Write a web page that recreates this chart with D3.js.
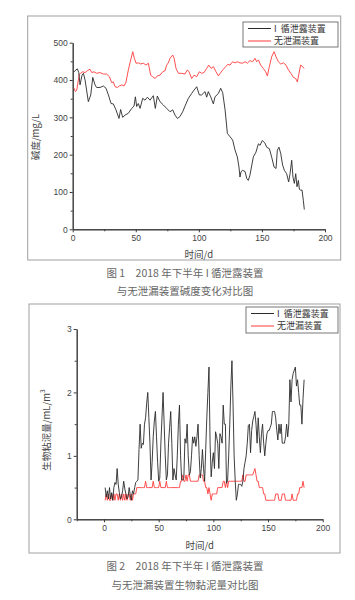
<!DOCTYPE html>
<html><head><meta charset="utf-8">
<script src="https://cdn.jsdelivr.net/npm/d3@7"></script>
<style>
body{margin:0;background:#fff;}
svg{display:block;}
</style></head>
<body>
<svg id="c" width="355" height="600"></svg>
<script>
// ---------- Chart 1: alkalinity (mg/L) ----------
const c1LeakDays = [1.1,2.6,3.7,4.8,5.8,7.4,8.5,9.8,12.4,14.3,15.9,17.7,19,21.7,24.3,26.4,28.3,30.4,32.2,34.3,36.7,38,39.6,41.5,44.1,46.8,48.6,49.7,50.7,52,53.4,55.5,57.3,59.2,61.3,63.9,65.5,67.1,69.2,71.9,74.5,77.1,79.3,81.1,83,85,87.2,89,91.7,94.3,96.2,98.3,100.4,102.2,104.9,106.2,107.5,109.4,111.5,112.8,115.5,117.3,118.9,120.8,122.6,124.7,126.8,128.7,130.5,131.8,132.6,133.4,134.7,136.6,138,139.2,140.5,143.2,145.3,147.2,148.5,150.3,152.4,153.8,155.9,157.7,159.6,161.2,162.2,163.5,164.9,166.4,167.8,169.6,171.2,172.3,173.6,174.6,175.7,176.8,177.8,178.9,179.7,180.7,181.8,182.8,183.6];
const c1LeakVals = [422,427,430,420,387,413,418,400,342,360,407,387,380,380,384,378,360,337,336,320,297,321,300,306,311,324,330,355,329,337,324,351,346,354,346,358,324,357,342,333,324,315,320,306,297,302,315,330,351,364,373,382,360,360,369,354,369,355,336,355,364,378,366,320,257,248,239,212,194,167,140,154,158,155,136,131,145,194,207,229,225,238,231,220,216,194,167,163,212,220,203,172,158,149,127,149,185,140,123,149,114,131,107,105,105,78,53];
const c1NoLeakDays = [1.1,2.1,3.2,4.5,5.3,6.3,7.9,9.8,11.6,13.7,15.1,16.9,19,21.7,24.3,26.9,29.1,30.9,32.2,33.6,35.4,37,38.8,40.7,42.3,44.1,46,47.6,48.9,50.2,52.1,53.9,56,58.1,60,61.8,63.4,65.3,67.1,69.2,71.3,73.2,74.5,75.8,77.1,79.3,80.4,81.9,83.8,86.4,89,90.9,92.2,94.3,96.2,98.3,100.4,102.2,104.1,106.2,107.8,109.7,111.5,113.6,115.5,117.3,119.5,121.3,122.9,124.7,126.8,128.7,130.5,132.6,134.7,136.6,138.4,140.5,142.6,144.5,145.8,147.2,149,151.1,153,154.3,155.9,157.7,159.6,161.2,163,164.9,167,169.1,171,172.9,175,176.8,178.1,179.4,180.7,182.3,183.4];
const c1NoLeakVals = [378,369,373,400,416,418,422,420,425,429,420,422,418,420,416,416,409,393,395,382,380,384,387,384,395,427,454,476,458,445,446,443,445,440,445,413,409,404,411,413,422,425,440,446,458,467,458,431,418,418,416,427,422,404,413,409,422,418,420,431,440,431,436,422,411,420,429,436,442,440,449,446,449,446,445,449,445,452,449,458,449,454,440,431,422,411,436,462,476,462,449,443,446,440,427,418,407,404,395,418,440,436,431];
const c1XTicks = [0,50,100,150,200];
const c1YTicks = [0,100,200,300,400,500];

// ---------- Chart 2: biological slime (mL/m3), days 1..183 ----------
const c2LeakVals = [0.5,0.35,0.45,0.32,0.5,0.32,0.42,0.3,0.5,0.58,0.55,0.8,0.55,0.42,0.32,0.35,0.45,0.6,0.48,0.4,0.32,0.35,0.5,0.38,0.3,0.45,0.4,0.5,0.58,0.6,0.62,1.1,1.5,1.12,1.2,1.18,1.5,1.6,1.83,2.0,1.6,1.2,0.62,0.9,1.3,1.55,1.7,1.3,0.9,0.6,0.65,1.2,1.6,2.0,1.5,1.0,0.62,0.7,1.2,1.45,1.7,1.2,0.62,0.8,0.7,0.62,1.0,1.5,1.8,1.0,0.62,0.62,0.65,1.27,1.2,1.5,1.0,0.7,0.75,1.0,1.3,1.2,1.3,1.15,1.3,1.5,1.0,0.65,0.8,1.1,0.8,0.6,1.1,1.6,2.0,2.4,1.2,0.67,0.9,1.05,0.8,1.38,1.3,1.2,0.8,1.35,1.3,1.2,1.8,1.5,1.5,0.57,0.6,1.0,1.5,2.1,2.5,1.8,1.0,0.6,0.3,0.4,0.55,0.55,0.55,0.52,0.6,0.8,0.9,1.0,1.2,1.48,1.5,1.05,1.4,1.55,1.62,1.7,1.5,1.2,1.6,1.3,1.05,1.35,1.5,1.2,1.0,1.2,1.35,1.4,1.4,1.45,1.5,1.7,1.7,1.7,1.6,1.4,1.25,1.5,1.35,1.5,1.2,1.2,1.2,1.3,1.5,1.3,1.5,2.2,1.85,2.2,2.3,2.35,2.4,2.1,2.2,2.0,1.8,1.8,1.5,1.9,2.2];
const c2NoLeakVals = [0.3,0.4,0.3,0.4,0.3,0.3,0.4,0.3,0.4,0.3,0.4,0.4,0.3,0.4,0.3,0.4,0.3,0.4,0.3,0.4,0.3,0.4,0.4,0.3,0.4,0.3,0.4,0.4,0.4,0.5,0.5,0.5,0.5,0.5,0.5,0.5,0.5,0.6,0.5,0.5,0.5,0.5,0.5,0.5,0.6,0.5,0.5,0.5,0.5,0.5,0.6,0.5,0.5,0.5,0.5,0.5,0.6,0.5,0.5,0.5,0.5,0.5,0.5,0.5,0.5,0.5,0.5,0.5,0.5,0.6,0.6,0.7,0.6,0.6,0.7,0.6,0.7,0.7,0.6,0.6,0.6,0.6,0.6,0.6,0.6,0.6,0.7,0.7,0.7,0.7,0.6,0.6,0.5,0.5,0.4,0.5,0.4,0.3,0.4,0.4,0.4,0.4,0.4,0.5,0.5,0.5,0.5,0.5,0.6,0.6,0.5,0.6,0.5,0.6,0.6,0.6,0.6,0.6,0.6,0.6,0.6,0.6,0.6,0.6,0.6,0.6,0.7,0.6,0.6,0.7,0.7,0.7,0.7,0.7,0.7,0.7,0.75,0.8,0.7,0.6,0.6,0.5,0.5,0.5,0.5,0.4,0.4,0.3,0.3,0.3,0.3,0.3,0.3,0.3,0.3,0.3,0.4,0.4,0.4,0.3,0.3,0.3,0.4,0.4,0.4,0.3,0.3,0.3,0.3,0.3,0.3,0.4,0.3,0.3,0.3,0.3,0.4,0.4,0.5,0.5,0.5,0.6,0.5];
const c2XTicks = [0,50,100,150,200];
const c2YTicks = [0,1,2,3];

const legendNames = ["I\u00a0\u00a0循泄露装置", "无泄漏装置"];
const captions1 = ["图 1　2018 年下半年 I 循泄露装置", "与无泄漏装置碱度变化对比图"];
const captions2 = ["图 2　2018 年下半年 I 循泄露装置", "与无泄漏装置生物黏泥量对比图"];

const svg = d3.select("#c");
const CJK = "'Noto Sans CJK SC', sans-serif";
const SANS = "'Liberation Sans', Arial, sans-serif";
const AX = "#3a3a3a";
const BLACK = "#2a2a2a";
const RED = "#ff3b3b";

function drawChart(o) {
  const g = svg.append("g");
  g.append("rect").attr("x", o.frame[0]).attr("y", o.frame[1])
    .attr("width", o.frame[2] - o.frame[0]).attr("height", o.frame[3] - o.frame[1])
    .attr("fill", "none").attr("stroke", "#a0a0a0").attr("stroke-width", 1);

  const x = d3.scaleLinear().domain(o.xDomain).range(o.xRange);
  const y = d3.scaleLinear().domain(o.yDomain).range(o.yRange);

  const xAxis = d3.axisBottom(x).tickValues(o.xTicks).tickSize(3).tickSizeOuter(0).tickPadding(3).tickFormat(d3.format("d"));
  const xMinor = d3.axisBottom(x).tickValues(o.xMinor).tickSize(2).tickSizeOuter(0).tickFormat("");
  const yAxis = d3.axisLeft(y).tickValues(o.yTicks).tickSize(3).tickSizeOuter(0).tickPadding(2).tickFormat(d3.format("d"));
  const yMinor = d3.axisLeft(y).tickValues(o.yMinor).tickSize(2).tickSizeOuter(0).tickFormat("");

  function style(sel) {
    sel.selectAll("path,line").attr("stroke", AX).attr("stroke-width", 1);
    sel.selectAll("text").attr("fill", "#444").style("font-family", SANS).style("font-size", "8.5px");
  }
  g.append("g").attr("transform", `translate(0,${o.yRange[0]})`).call(xMinor).call(style);
  g.append("g").attr("transform", `translate(0,${o.yRange[0]})`).call(xAxis).call(style);
  g.append("g").attr("transform", `translate(${o.xRange[0]},0)`).call(yMinor).call(style);
  g.append("g").attr("transform", `translate(${o.xRange[0]},0)`).call(yAxis).call(style);

  const line = d3.line().x(d => x(d[0])).y(d => y(d[1]));
  g.append("path").datum(o.red).attr("d", line).attr("fill", "none")
    .attr("stroke", RED).attr("stroke-width", 0.9);
  g.append("path").datum(o.black).attr("d", line).attr("fill", "none")
    .attr("stroke", BLACK).attr("stroke-width", 0.9);

  // axis titles
  g.append("text").attr("x", (o.xRange[0] + o.xRange[1]) / 2).attr("y", o.xTitleY)
    .attr("text-anchor", "middle").attr("fill", "#444")
    .style("font-family", CJK).style("font-size", "9.5px").text("时间/d");
  g.append("text").attr("transform", `translate(${o.yTitleX},${o.yTitleY}) rotate(-90)`)
    .attr("text-anchor", "middle").attr("fill", "#444")
    .style("font-family", CJK).style("font-size", "9.5px").html(o.yTitle);

  // legend
  const L = o.legend;
  g.append("rect").attr("x", L[0]).attr("y", L[1]).attr("width", L[2] - L[0]).attr("height", L[3] - L[1])
    .attr("fill", "#fff").attr("stroke", "#555").attr("stroke-width", 0.8);
  const rows = [{c: BLACK, t: legendNames[0], y: L[1] + 6.5}, {c: RED, t: legendNames[1], y: L[1] + 19}];
  rows.forEach(r => {
    g.append("line").attr("x1", L[0] + 5).attr("x2", L[0] + 28).attr("y1", r.y).attr("y2", r.y)
      .attr("stroke", r.c).attr("stroke-width", 1);
    g.append("text").attr("x", L[0] + 31).attr("y", r.y + 3.2).attr("fill", "#333")
      .style("font-family", CJK).style("font-size", "9px").text(r.t);
  });

  // captions
  o.captions.forEach((t, i) => {
    g.append("text").attr("x", 185).attr("y", o.capY[i]).attr("text-anchor", "middle")
      .attr("fill", "#666").style("font-family", CJK).style("font-size", "10.5px").text(t);
  });
}

drawChart({
  frame: [27.7, 16, 340.7, 260],
  xDomain: [0, 200], xRange: [72.7, 325],
  yDomain: [0, 500], yRange: [229.3, 42.7],
  xTicks: c1XTicks, xMinor: [25, 75, 125, 175],
  yTicks: c1YTicks, yMinor: [50, 150, 250, 350, 450],
  black: c1LeakDays.map((d, i) => [d, c1LeakVals[i]]),
  red: c1NoLeakDays.map((d, i) => [d, c1NoLeakVals[i]]),
  xTitleY: 258, yTitleX: 39, yTitleY: 137,
  yTitle: "碱度/mg/L",
  legend: [243, 22, 338, 47],
  captions: captions1, capY: [277, 295]
});

drawChart({
  frame: [29, 304, 340, 553],
  xDomain: [-25, 200], xRange: [76.7, 322.7],
  yDomain: [0, 3], yRange: [519.3, 329],
  xTicks: c2XTicks, xMinor: [-25, 25, 75, 125, 175],
  yTicks: c2YTicks, yMinor: [0.5, 1.5, 2.5],
  black: c2LeakVals.map((v, i) => [i + 1, v]),
  red: c2NoLeakVals.map((v, i) => [i + 1, v]),
  xTitleY: 549, yTitleX: 50, yTitleY: 430,
  yTitle: "生物粘泥量/mL/m<tspan baseline-shift='super' font-size='6.5px'>3</tspan>",
  legend: [246, 307, 338, 333],
  captions: captions2, capY: [570, 589]
});
</script>
</body></html>
